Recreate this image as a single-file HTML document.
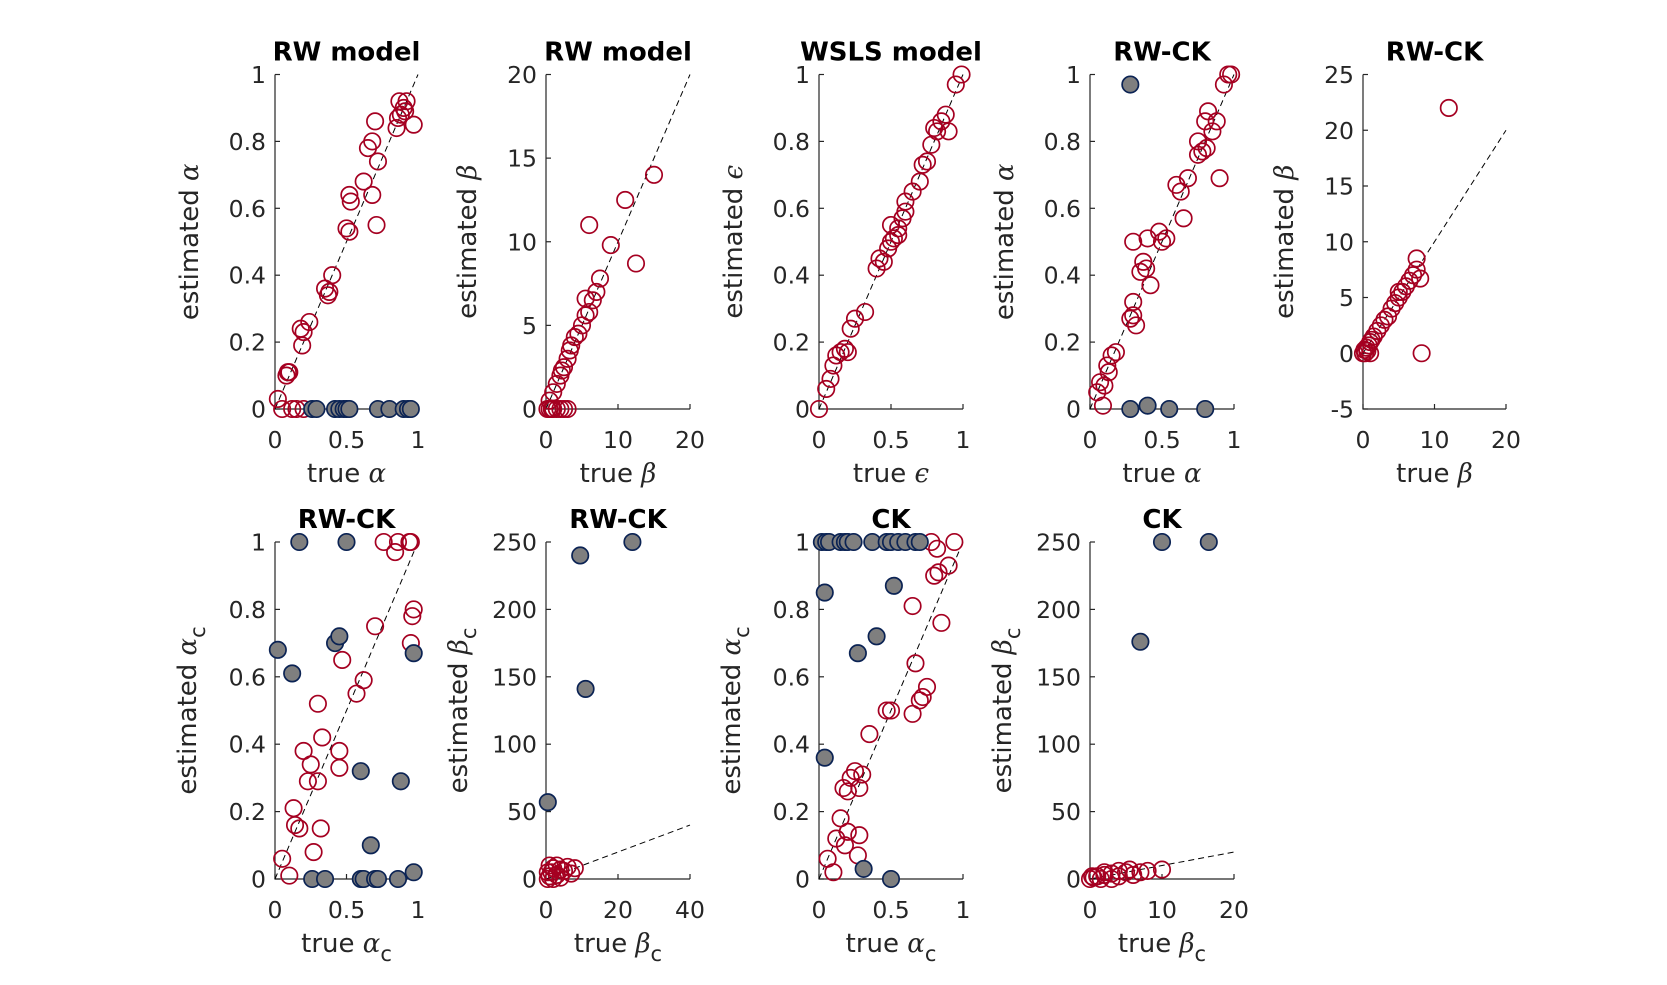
<!DOCTYPE html>
<html><head><meta charset="utf-8">
<style>
body{margin:0;background:#fff;}
svg{display:block;font-family:"DejaVu Sans","Liberation Sans",sans-serif;}
.tick{font-size:23.5px;fill:#262626;}
.lab{font-size:26px;fill:#262626;}
.ttl{font-size:26px;font-weight:bold;fill:#000;}
.gk{font-family:"DejaVu Serif","Liberation Serif",serif;font-style:italic;}
</style></head>
<body>
<svg id="fig" width="1667" height="985" viewBox="0 0 1667 985"></svg>
<script>
// ---- data ----
const p1Red = [[0.02,0.03],[0.05,0],[0.08,0.1],[0.09,0.11],[0.1,0.11],[0.12,0],[0.15,0],[0.18,0.24],[0.19,0.19],[0.2,0.23],[0.24,0.26],[0.2,0],[0.35,0.36],[0.37,0.34],[0.38,0.35],[0.4,0.4],[0.5,0.54],[0.52,0.53],[0.52,0.64],[0.53,0.62],[0.62,0.68],[0.65,0.78],[0.68,0.8],[0.7,0.86],[0.68,0.64],[0.71,0.55],[0.72,0.74],[0.85,0.84],[0.86,0.87],[0.87,0.92],[0.88,0.88],[0.9,0.9],[0.92,0.92],[0.91,0.89],[0.97,0.85]];
const p1Blue = [[0.26,0],[0.29,0],[0.42,0],[0.45,0],[0.48,0],[0.5,0],[0.52,0],[0.72,0],[0.8,0],[0.9,0],[0.93,0],[0.95,0]];
const p2Red = [[0.2,0],[0.5,0],[0.8,0],[1,0],[1.5,0],[2,0],[2.5,0],[3,0],[0.5,0.5],[1,1],[1.5,1.5],[2,2],[2.2,2.3],[2.5,2.5],[3,3],[3.3,3.5],[3.5,3.8],[4,4.3],[4.5,4.5],[5,5],[5.5,5.6],[5.5,6.6],[6,5.8],[6.5,6.5],[7,7],[7.5,7.8],[6,11],[9,9.8],[11,12.5],[12.5,8.7],[15,14]];
const p3Red = [[0,0],[0.05,0.06],[0.08,0.09],[0.1,0.13],[0.12,0.16],[0.15,0.17],[0.18,0.18],[0.2,0.17],[0.22,0.24],[0.25,0.27],[0.32,0.29],[0.4,0.42],[0.42,0.45],[0.45,0.44],[0.48,0.48],[0.5,0.5],[0.5,0.55],[0.52,0.51],[0.55,0.52],[0.55,0.54],[0.58,0.57],[0.6,0.59],[0.6,0.62],[0.65,0.65],[0.7,0.68],[0.72,0.73],[0.75,0.74],[0.78,0.79],[0.8,0.84],[0.82,0.83],[0.85,0.86],[0.88,0.88],[0.9,0.83],[0.95,0.97],[0.99,1]];
const p4Red = [[0.05,0.05],[0.07,0.08],[0.09,0.01],[0.1,0.07],[0.12,0.13],[0.13,0.11],[0.15,0.16],[0.18,0.17],[0.28,0.27],[0.3,0.28],[0.3,0.32],[0.32,0.25],[0.3,0.5],[0.35,0.41],[0.37,0.44],[0.39,0.42],[0.4,0.51],[0.42,0.37],[0.48,0.53],[0.5,0.5],[0.53,0.51],[0.6,0.67],[0.63,0.65],[0.65,0.57],[0.68,0.69],[0.75,0.8],[0.78,0.77],[0.8,0.86],[0.82,0.89],[0.85,0.83],[0.88,0.86],[0.9,0.69],[0.93,0.97],[0.96,1],[0.98,1],[0.75,0.76],[0.81,0.78]];
const p4Blue = [[0.28,0.97],[0.28,0],[0.4,0.01],[0.55,0],[0.8,0]];
const p5Red = [[0,0],[0.2,0.3],[0.5,0.5],[0.8,0.7],[1,1],[1.2,1.2],[1.5,1.5],[2,2],[2.5,2.5],[3,3],[3.5,3.3],[4,4],[4.5,4.5],[5,5],[5,5.5],[5.5,5.5],[6,6],[6.5,6.5],[7,7],[7.5,7.5],[8,6.7],[7.5,8.5],[12,22],[8.2,0],[1,0],[0.3,0],[0.6,0.2]];
const p6Red = [[0.05,0.06],[0.1,0.01],[0.13,0.21],[0.14,0.16],[0.17,0.15],[0.2,0.38],[0.23,0.29],[0.25,0.34],[0.27,0.08],[0.3,0.52],[0.3,0.29],[0.32,0.15],[0.33,0.42],[0.45,0.38],[0.45,0.33],[0.47,0.65],[0.57,0.55],[0.62,0.59],[0.7,0.75],[0.76,1],[0.84,0.97],[0.86,1],[0.94,1],[0.95,1],[0.95,0.7],[0.96,0.78],[0.97,0.8]];
const p6Blue = [[0.02,0.68],[0.12,0.61],[0.17,1],[0.26,0],[0.35,0],[0.5,1],[0.42,0.7],[0.45,0.72],[0.6,0.32],[0.6,0],[0.62,0],[0.67,0.1],[0.7,0],[0.72,0],[0.86,0],[0.88,0.29],[0.97,0.67],[0.97,0.02]];
const p7Red = [[0.5,0],[1,2],[1.5,5],[2,8],[3,3],[4,1],[5,6],[6,9],[7,4],[8,8],[3,10],[0.5,5],[2,0],[1,10],[4,7]];
const p7Blue = [[0.5,57],[9.5,240],[24,250],[11,141]];
const p8Red = [[0.06,0.06],[0.1,0.02],[0.12,0.12],[0.15,0.18],[0.18,0.1],[0.2,0.14],[0.17,0.27],[0.2,0.26],[0.22,0.3],[0.25,0.32],[0.28,0.27],[0.3,0.31],[0.28,0.13],[0.27,0.07],[0.35,0.43],[0.47,0.5],[0.5,0.5],[0.65,0.49],[0.67,0.64],[0.7,0.53],[0.72,0.54],[0.75,0.57],[0.65,0.81],[0.8,0.9],[0.83,0.91],[0.9,0.93],[0.85,0.76],[0.78,1],[0.82,0.98],[0.94,1]];
const p8Blue = [[0.02,1],[0.05,1],[0.07,1],[0.15,1],[0.18,1],[0.2,1],[0.24,1],[0.37,1],[0.47,1],[0.5,1],[0.55,1],[0.6,1],[0.67,1],[0.7,1],[0.04,0.85],[0.04,0.36],[0.27,0.67],[0.4,0.72],[0.52,0.87],[0.31,0.03],[0.5,0]];
const p9Red = [[0,0],[0.5,1],[1,2],[1.5,0],[2,3],[3,4],[4,2],[5,5],[5.5,7],[6,3],[7,5],[8,6],[10,7],[2,5],[3,0],[4,6],[0.3,2]];
const p9Blue = [[10,250],[16.5,250],[7,176]];

const NS="http://www.w3.org/2000/svg";
const svg=document.getElementById('fig');
function mk(tag,attrs,parent){const e=document.createElementNS(NS,tag);for(const k in attrs)e.setAttribute(k,attrs[k]);(parent||svg).appendChild(e);return e;}

const colsX=[[275,418],[546,690],[819,963],[1090,1234],[1363,1506]];
const rowsY=[[74.5,409],[542,879]];

const panels=[
 {c:0,r:0,title:"RW model",xd:[0,1],yd:[0,1],xt:[0,0.5,1],yt:[0,0.2,0.4,0.6,0.8,1],xl:"α",yl:"α",sub:false,red:p1Red,blue:p1Blue,line:[0,1],yo:77},
 {c:1,r:0,title:"RW model",xd:[0,20],yd:[0,20],xt:[0,10,20],yt:[0,5,10,15,20],xl:"β",yl:"β",sub:false,red:p2Red,blue:[],line:[0,20],yo:70},
 {c:2,r:0,title:"WSLS model",xd:[0,1],yd:[0,1],xt:[0,0.5,1],yt:[0,0.2,0.4,0.6,0.8,1],xl:"ϵ",yl:"ϵ",sub:false,red:p3Red,blue:[],line:[0,1],yo:77},
 {c:3,r:0,title:"RW-CK",xd:[0,1],yd:[0,1],xt:[0,0.5,1],yt:[0,0.2,0.4,0.6,0.8,1],xl:"α",yl:"α",sub:false,red:p4Red,blue:p4Blue,line:[0,1],yo:77},
 {c:4,r:0,title:"RW-CK",xd:[0,20],yd:[-5,25],xt:[0,10,20],yt:[-5,0,5,10,15,20,25],xl:"β",yl:"β",sub:false,red:p5Red,blue:[],line:[0,20],yo:70},
 {c:0,r:1,title:"RW-CK",xd:[0,1],yd:[0,1],xt:[0,0.5,1],yt:[0,0.2,0.4,0.6,0.8,1],xl:"α",yl:"α",sub:true,red:p6Red,blue:p6Blue,line:[0,1],yo:79},
 {c:1,r:1,title:"RW-CK",xd:[0,40],yd:[0,250],xt:[0,20,40],yt:[0,50,100,150,200,250],xl:"β",yl:"β",sub:true,red:p7Red,blue:p7Blue,line:[0,40],yo:79},
 {c:2,r:1,title:"CK",xd:[0,1],yd:[0,1],xt:[0,0.5,1],yt:[0,0.2,0.4,0.6,0.8,1],xl:"α",yl:"α",sub:true,red:p8Red,blue:p8Blue,line:[0,1],yo:79},
 {c:3,r:1,title:"CK",xd:[0,20],yd:[0,250],xt:[0,10,20],yt:[0,50,100,150,200,250],xl:"β",yl:"β",sub:true,red:p9Red,blue:p9Blue,line:[0,20],yo:79}
];

panels.forEach((p,i)=>{
 const [x0,x1]=colsX[p.c],[y0,y1]=rowsY[p.r];
 const sx=v=>x0+(v-p.xd[0])/(p.xd[1]-p.xd[0])*(x1-x0);
 const sy=v=>y1-(v-p.yd[0])/(p.yd[1]-p.yd[0])*(y1-y0);
 const g=mk('g',{});
 
 
 const ax=mk('path',{d:`M${x0},${y0}V${y1}H${x1}`,fill:'none',stroke:'#262626','stroke-width':1.2},g);
 
 
 p.xt.forEach(t=>{
  mk('line',{x1:sx(t),x2:sx(t),y1:y1,y2:y1-5,stroke:'#262626','stroke-width':1.2},g);
  const tx=mk('text',{x:sx(t),y:y1+39,'text-anchor':'middle',class:'tick'},g);tx.textContent=String(t);
  
  
 });
 p.yt.forEach(t=>{
  mk('line',{x1:x0,x2:x0+5,y1:sy(t),y2:sy(t),stroke:'#262626','stroke-width':1.2},g);
  const tx=mk('text',{x:x0-9,y:sy(t)+8.5,'text-anchor':'end',class:'tick'},g);tx.textContent=String(t);
  
  
 });
 const dl=mk('line',{x1:sx(p.line[0]),y1:sy(p.line[0]),x2:sx(p.line[1]),y2:sy(p.line[1]),stroke:'#000','stroke-width':1,'stroke-dasharray':'6,4'},g);
 
 
 p.red.forEach(d=>{
  const c=mk('circle',{cx:sx(d[0]),cy:sy(d[1]),r:8.2,fill:'none',stroke:'#a50021','stroke-width':1.7},g);
  
  
 });
 p.blue.forEach(d=>{
  const c=mk('circle',{cx:sx(d[0]),cy:sy(d[1]),r:8.2,fill:'#7f7f7f',stroke:'#0b2354','stroke-width':1.7},g);
  
  
 });
 const tt=mk('text',{x:(x0+x1)/2,y:y0-14,'text-anchor':'middle',class:'ttl'},g);tt.textContent=p.title;
 
 
 const xl=mk('text',{x:(x0+x1)/2,y:y1+73,'text-anchor':'middle',class:'lab'},g);
 xl.innerHTML='true <tspan class="gk">'+p.xl+'</tspan>'+(p.sub?'<tspan dy="9" font-size="21">c</tspan>':'');
 
 
 const cx=x0-p.yo, cy=(y0+y1)/2;
 const yl=mk('text',{x:cx,y:cy,'text-anchor':'middle',class:'lab',transform:`rotate(-90 ${cx} ${cy})`},g);
 yl.innerHTML='estimated <tspan class="gk">'+p.yl+'</tspan>'+(p.sub?'<tspan dy="9" font-size="21">c</tspan>':'');
 
 
});
</script>
</body></html>
